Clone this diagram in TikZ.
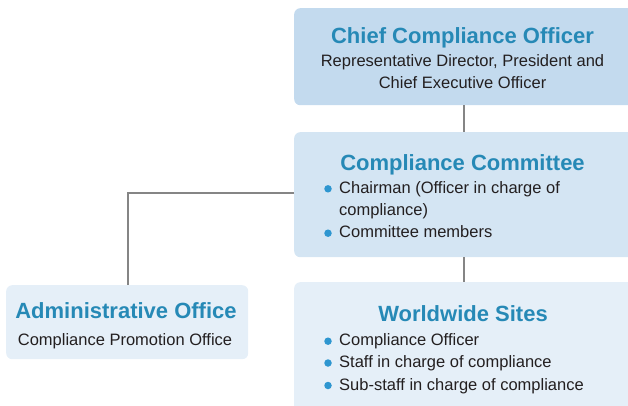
\documentclass[tikz,border=0pt]{standalone}
\usepackage{fontspec}
\setmainfont{Liberation Sans}
\definecolor{titleblue}{HTML}{2689B6}
\definecolor{bodytext}{HTML}{231F20}
\definecolor{fillA}{HTML}{C3DAEE}
\definecolor{fillB}{HTML}{D4E5F3}
\definecolor{fillC}{HTML}{E5EFF8}
\definecolor{linegray}{HTML}{858585}
\definecolor{bulletblue}{HTML}{2E96D0}
\tikzset{
  box/.style={rounded corners=6pt, draw=none, anchor=north west, inner sep=0pt},
  ttl/.style={anchor=base, inner sep=0pt, text=titleblue, font=\fontsize{22}{26}\selectfont\bfseries},
  bodyc/.style={anchor=base, inner sep=0pt, text=bodytext, font=\fontsize{16.5}{20}\selectfont},
  bodyl/.style={anchor=base west, inner sep=0pt, text=bodytext, font=\fontsize{16.5}{20}\selectfont},
  bul/.style={circle, fill=bulletblue, inner sep=0pt, minimum size=7.5pt},
  conn/.style={draw=linegray, line width=2pt}
}
\begin{document}
\begin{tikzpicture}[x=1pt,y=-1pt]
\useasboundingbox (0,0) rectangle (628,405);
\clip (0,0) rectangle (628,405);
% boxes
\node[box, fill=fillA, minimum width=350pt, minimum height=97pt] (ceo) at (294,8) {};
\node[box, fill=fillB, minimum width=350pt, minimum height=125pt] (comm) at (294,132) {};
\node[box, fill=fillC, minimum width=350pt, minimum height=140pt] (ws) at (294,282) {};
\node[box, fill=fillC, minimum width=242pt, minimum height=74pt] (adm) at (6,285) {};
% connectors
\coordinate (c1) at (463.5,105);
\coordinate (c2) at (463.5,132);
\coordinate (c3) at (463.5,257);
\coordinate (c4) at (463.5,282);
\coordinate (c5) at (294,192.5);
\coordinate (c6) at (127.5,285);
\draw[conn] (c1) -- (c2);
\draw[conn] (c3) -- (c4);
\draw[conn] (c5) -| (c6);
% CEO text
\node[ttl] (t1) at (462.5,43.5) {Chief Compliance Officer};
\node[bodyc] (t1a) at (462.5,66) {Representative Director, President and};
\node[bodyc] (t1b) at (462.5,88.5) {Chief Executive Officer};
% Committee text
\node[ttl] (t2) at (462.5,170) {Compliance Committee};
\node[bodyl] (t2a) at (339,193.3) {Chairman (Officer in charge of};
\node[bodyl] (t2b) at (339,215.7) {compliance)};
\node[bodyl] (t2c) at (339,237.7) {Committee members};
\node[bul] (b2a) at (328,188.8) {};
\node[bul] (b2c) at (328,233.2) {};
% Worldwide text
\node[ttl] (t3) at (463,321.7) {Worldwide Sites};
\node[bodyl] (t3a) at (339,345.7) {Compliance Officer};
\node[bodyl] (t3b) at (339,367.5) {Staff in charge of compliance};
\node[bodyl] (t3c) at (339,390) {Sub-staff in charge of compliance};
\node[bul] (b3a) at (328,341.2) {};
\node[bul] (b3b) at (328,363) {};
\node[bul] (b3c) at (328,385.5) {};
% Admin text
\node[ttl] (t4) at (126,318.3) {Administrative Office};
\node[bodyc] (t4a) at (125,345.7) {Compliance Promotion Office};
\end{tikzpicture}
\end{document}
